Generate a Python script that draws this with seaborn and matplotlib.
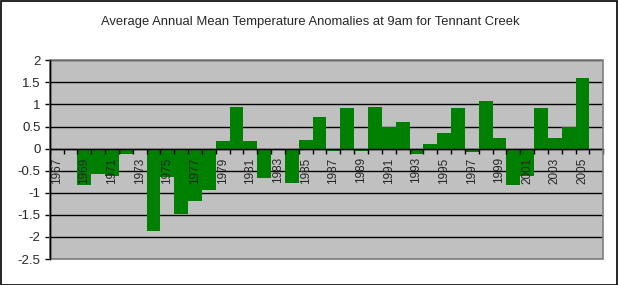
import matplotlib
matplotlib.use("Agg")
import matplotlib.pyplot as plt
import matplotlib.ticker as mticker
from matplotlib.patches import Rectangle
import seaborn as sns
import pandas as pd

years = ["1967", "1968", "1969", "1970", "1971", "1972", "1973", "1974", "1975", "1976",
         "1977", "1978", "1979", "1980", "1981", "1982", "1983", "1984", "1985", "1986",
         "1987", "1988", "1989", "1990", "1991", "1992", "1993", "1994", "1995", "1996",
         "1997", "1998", "1999", "2000", "2001", "2002", "2003", "2004", "2005", "2006"]
anomalies = [0.0, 0.0, -0.82, -0.57, -0.62, -0.12, 0.0, -1.87, -0.64, -1.48,
             -1.19, -0.94, 0.17, 0.94, 0.17, -0.66, -0.03, -0.78, 0.19, 0.71,
             -0.05, 0.91, -0.05, 0.94, 0.50, 0.60, -0.12, 0.10, 0.35, 0.91,
             -0.08, 1.07, 0.23, -0.82, -0.62, 0.91, 0.23, 0.49, 1.59, 0.0]
title = "Average Annual Mean Temperature Anomalies at 9am for Tennant Creek"
y_ticks = [-2.5, -2, -1.5, -1, -0.5, 0, 0.5, 1, 1.5, 2]

sns.set_style("white")
plt.rcParams["font.family"] = ["Liberation Sans", "DejaVu Sans"]
plt.rcParams["axes.unicode_minus"] = False

df = pd.DataFrame({"year": years, "anomaly": anomalies})

W, H = 618, 285
fig = plt.figure(figsize=(W / 100, H / 100), dpi=100)
fig.patch.set_facecolor("white")
ax = fig.add_axes([49.7 / W, (H - 259) / H, (603.3 - 49.7) / W, (259 - 60.3) / H])
ax.set_facecolor("#C0C0C0")

sns.barplot(data=df, x="year", y="anomaly", order=years, color="#008000",
            saturation=1, width=1.0, linewidth=0, ax=ax)
for p in ax.patches:
    p.set_zorder(1)

ax.set_xlim(-0.5, len(years) - 0.5)
ax.set_ylim(-2.5, 2)
ax.set_xlabel("")
ax.set_ylabel("")

# gridlines drawn manually beneath bars; axis (labels/ticks) above bars
ax.set_axisbelow(False)
ax.grid(False)
for yv in y_ticks:
    ax.axhline(yv, color="black", linewidth=1, zorder=0.5)

# y axis
ax.set_yticks(y_ticks)
ax.yaxis.set_major_formatter(mticker.FormatStrFormatter("%g"))
ax.tick_params(axis="y", direction="out", length=3.5, width=1, color="black",
               labelsize=9.5, pad=3, left=True)

# x axis at zero
ax.spines["bottom"].set_position(("data", 0))
ax.spines["bottom"].set_color("black")
ax.spines["bottom"].set_linewidth(1)
ax.spines["left"].set_color("black")
ax.spines["left"].set_linewidth(1)
ax.spines["top"].set_visible(False)
ax.spines["right"].set_visible(False)

n = len(years)
ax.set_xticks([i - 0.5 for i in range(n + 1)])
ax.set_xticklabels([])
ax.tick_params(axis="x", which="major", direction="out", length=3.5, width=1,
               color="black", bottom=True)
ax.set_xticks(list(range(0, n, 2)), minor=True)
ax.set_xticklabels(years[::2], minor=True, rotation=90)
ax.tick_params(axis="x", which="minor", length=0, pad=6.3, labelsize=8.5)

# grey plot-area border
ax.add_patch(Rectangle((0, 0), 1, 1, transform=ax.transAxes, fill=False,
                       edgecolor="#808080", linewidth=1.2, zorder=5, clip_on=False))
ax.plot([0, 0], [0, 1], transform=ax.transAxes, color="black", lw=1, zorder=6,
        clip_on=False)

fig.text(310 / W, 1 - 22.5 / H, title, ha="center", va="center", fontsize=9.4)

# figure border
fig.patches.append(Rectangle((0.5 / W, 0.5 / H), 1 - 1.5 / W, 1 - 1.5 / H,
                             transform=fig.transFigure, fill=False,
                             edgecolor="black", linewidth=1.2))

fig.savefig("out.png", dpi=100)
